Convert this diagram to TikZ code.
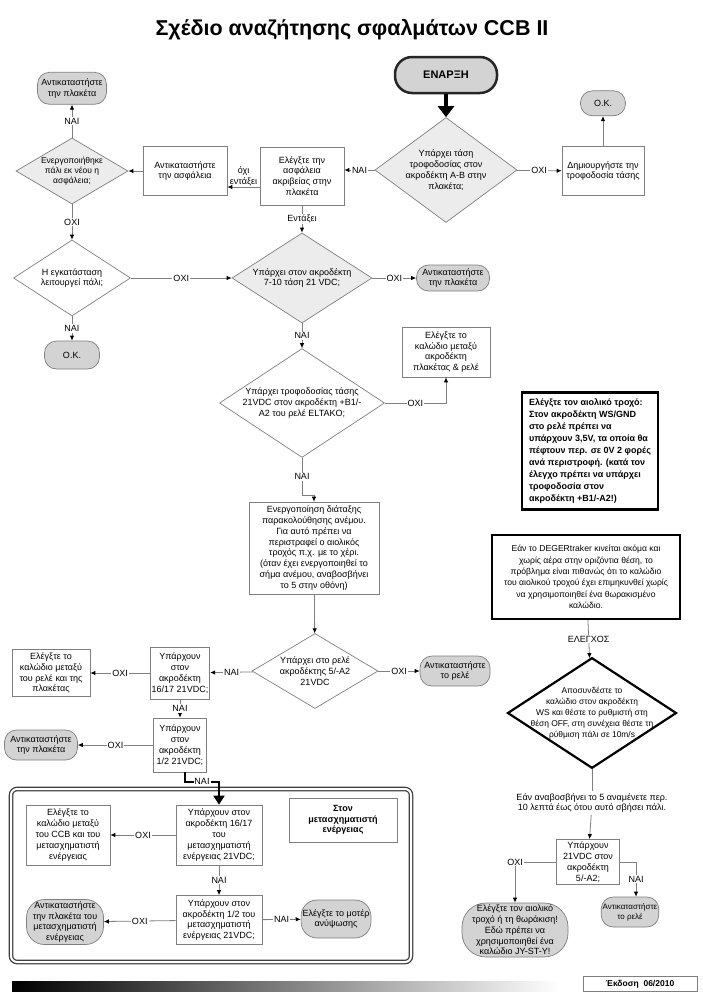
\documentclass[tikz,border=0pt]{standalone}
\usepackage{fontspec}
\setmainfont{Liberation Sans}
\usepackage{tikz}
\usetikzlibrary{arrows.meta,positioning,shapes,calc}
\usepackage{xcolor}
\definecolor{linegray}{HTML}{7F7F7F}
\definecolor{termgray}{HTML}{D3D3D3}
\definecolor{decgray}{HTML}{ECECEC}

\begin{document}
\begin{tikzpicture}[x=1pt,y=-1pt,>={Latex[length=5pt,width=4.5pt,color=black]},
  every node/.style={font=\fontsize{9}{10.8}\selectfont}]
\tikzstyle{box}=[draw=linegray,fill=white,align=center,inner sep=1.5pt,line width=0.7pt]
\tikzstyle{term}=[draw=linegray,fill=termgray,align=center,inner sep=1.5pt,line width=0.7pt,rounded corners=12pt]
\tikzstyle{dec}=[diamond,draw=linegray,fill=white,align=center,inner sep=-10pt,line width=0.7pt]
\tikzstyle{note}=[draw=black,fill=white,line width=2.2pt,inner sep=3pt]
\tikzstyle{lbl}=[fill=white,inner sep=1pt]
\tikzstyle{wire}=[draw=linegray,line width=0.8pt]
\tikzstyle{bigarrow}=[draw=black,line width=3.4pt,-{Triangle[length=11pt,width=16pt]}]
\path[use as bounding box,fill=white] (0,0) rectangle (703,994);

% title
\node[font=\fontsize{21.5}{25}\selectfont\bfseries] (title) at (352,30) {Σχέδιο αναζήτησης σφαλμάτων CCB II};

% start and power check
\node[term,draw=black!85,line width=2.5pt,rounded corners=17pt,minimum width=102pt,minimum height=36pt,
  font=\fontsize{11}{13}\selectfont\bfseries] (start) at (446,75) {ΕΝΑΡΞΗ};
\node[dec,fill=decgray,minimum width=142pt,minimum height=105pt] (d1) at (446,170)
  {Υπάρχει τάση\\τροφοδοσίας στον\\ακροδέκτη Α-Β στην\\πλακέτα;};
\node[box,minimum width=82pt,minimum height=49pt] (gen) at (603,171) {Δημιουργήστε την\\τροφοδοσία τάσης};
\node[term,minimum width=45pt,minimum height=25pt,above=30pt of gen] (okA) {O.K.};

% fuse
\node[box,minimum width=84pt,minimum height=58pt] (fuse) at (302,176) {Ελέγξτε την\\ασφάλεια\\ακριβείας στην\\πλακέτα};
\node[box,minimum width=84pt,minimum height=49pt] (replfuse) at (185,171) {Αντικαταστήστε\\την ασφάλεια};
\node[dec,fill=decgray,minimum width=112pt,minimum height=66pt,font=\fontsize{8.5}{10.3}\selectfont] (dfuse) at (72,171)
  {Ενεργοποιήθηκε\\πάλι εκ νέου η\\ασφάλεια;};
\node[term,minimum width=69pt,minimum height=32pt,above=33pt of dfuse] (repl1) {Αντικαταστήστε\\την πλακέτα};
\node[dec,minimum width=117pt,minimum height=76pt] (dinst) at (72,278) {Η εγκατάσταση\\λειτουργεί πάλι;};
\node[term,minimum width=55pt,minimum height=28pt] (okB) at (72,355) {O.K.};

% 7-10 and ELTAKO
\node[dec,fill=decgray,minimum width=140pt,minimum height=90pt] (d710) at (302,278)
  {Υπάρχει στον ακροδέκτη\\7-10 τάση 21 VDC;};
\node[term,minimum width=73pt,minimum height=26pt] (repl2) at (453,278) {Αντικαταστήστε\\την πλακέτα};
\node[dec,minimum width=165pt,minimum height=102pt] (dB1) at (302,403)
  {Υπάρχει τροφοδοσίας τάσης\\21VDC στον ακροδέκτη +B1/-\\A2 του ρελέ ELTAKO;};
\node[box,minimum width=88pt,minimum height=50pt] (cable1) at (446,352)
  {Ελέγξτε το\\καλώδιο μεταξύ\\ακροδέκτη\\πλακέτας \& ρελέ};
\node[box,minimum width=130pt,minimum height=92pt] (wind) at (314,548)
  {Ενεργοποίηση διάταξης\\παρακολούθησης ανέμου.\\Για αυτό πρέπει να\\περιστραφεί ο αιολικός\\τροχός π.χ. με το χέρι.\\(όταν έχει ενεργοποιηθεί το\\σήμα ανέμου, αναβοσβήνει\\το 5 στην οθόνη)};

% relay checks
\node[dec,minimum width=126pt,minimum height=75pt] (d5A2) at (315,671) {Υπάρχει στο ρελέ\\ακροδέκτης 5/-A2\\21VDC};
\node[term,minimum width=70pt,minimum height=30pt] (repl3) at (455,671) {Αντικαταστήστε\\το ρελέ};
\node[box,minimum width=58pt,minimum height=52pt] (b1617) at (180,673) {Υπάρχουν\\στον\\ακροδέκτη\\16/17 21VDC;};
\node[box,minimum width=78pt,minimum height=47pt] (cable2) at (51,673) {Ελέγξτε το\\καλώδιο μεταξύ\\του ρελέ και της\\πλακέτας};
\node[box,minimum width=53pt,minimum height=54pt] (b12) at (180,745) {Υπάρχουν\\στον\\ακροδέκτη\\1/2 21VDC;};
\node[term,minimum width=73pt,minimum height=30pt] (repl4) at (41,745) {Αντικαταστήστε\\την πλακέτα};

% transformer frame
\draw[draw=black!75,line width=1.3pt,double=white,double distance=2pt,rounded corners=6pt] (11,789) rectangle (411,962);
\node[box,minimum width=86pt,minimum height=60pt] (t1617) at (219,835)
  {Υπάρχουν στον\\ακροδέκτη 16/17\\του\\μετασχηματιστή\\ενέργειας 21VDC;};
\node[box,minimum width=84pt,minimum height=60pt] (tcable) at (68,835)
  {Ελέγξτε το\\καλώδιο μεταξύ\\του CCB και του\\μετασχηματιστή\\ενέργειας};
\node[box,minimum width=108pt,minimum height=44pt,font=\fontsize{9}{10.8}\selectfont\bfseries] (tlabel) at (343,820)
  {Στον\\μετασχηματιστή\\ενέργειας};
\node[box,minimum width=86pt,minimum height=49pt] (t12) at (219,920)
  {Υπάρχουν στον\\ακροδέκτη 1/2 του\\μετασχηματιστή\\ενέργειας 21VDC;};
\node[term,minimum width=77pt,minimum height=45pt,rounded corners=18pt] (trepl) at (65,922)
  {Αντικαταστήστε\\την πλακέτα του\\μετασχηματιστή\\ενέργειας};
\node[term,minimum width=67pt,minimum height=38pt,rounded corners=16pt] (motor) at (336,919) {Ελέγξτε το μοτέρ\\ανύψωσης};

% right column
\node[note,align=left,minimum width=136pt,minimum height=117pt,font=\fontsize{9}{12}\selectfont\bfseries] (wheel) at (590,451)
  {Ελέγξτε τον αιολικό τροχό:\\Στον ακροδέκτη WS/GND\\στο ρελέ πρέπει να\\υπάρχουν 3,5V, τα οποία θα\\πέφτουν περ. σε 0V 2 φορές\\ανά περιστροφή. (κατά τον\\έλεγχο πρέπει να υπάρχει\\τροφοδοσία στον\\ακροδέκτη +B1/-A2!)};
\node[note,align=center,minimum width=188pt,minimum height=84pt,font=\fontsize{8.6}{11.4}\selectfont] (deger) at (586,577)
  {Εάν το DEGERtraker κινείται ακόμα και\\χωρίς αέρα στην οριζόντια θέση, το\\πρόβλημα είναι πιθανώς ότι το καλώδιο\\του αιολικού τροχού έχει επιμηκυνθεί χωρίς\\να χρησιμοποιηθεί ένα θωρακισμένο\\καλώδιο.};
\node[dec,draw=black,line width=2.2pt,inner sep=-16pt,minimum width=169pt,minimum height=110pt,
  font=\fontsize{8.4}{11}\selectfont] (dws) at (592,713)
  {Αποσυνδέστε το\\καλώδιο στον ακροδέκτη\\WS και θέστε το ρυθμιστή στη\\θέση OFF, στη συνέχεια θέστε τη\\ρύθμιση πάλι σε 10m/s};
\node[lbl,align=center,inner sep=2pt] (wait) at (592,803) {Εάν αναβοσβήνει το 5 αναμένετε περ.\\10 λεπτά έως ότου αυτό σβήσει πάλι.};
\node[box,minimum width=63pt,minimum height=45pt] (b5A2) at (588,862) {Υπάρχουν\\21VDC στον\\ακροδέκτη\\5/-A2;};
\node[term,minimum width=106pt,minimum height=54pt,rounded corners=24pt] (wheel2) at (515,930)
  {Ελέγξτε τον αιολικό\\τροχό ή τη θωράκιση!\\Εδώ πρέπει να\\χρησιμοποιηθεί ένα\\καλώδιο JY-ST-Y!};
\node[term,minimum width=56pt,minimum height=30pt,font=\fontsize{8}{10}\selectfont] (repl5) at (630,912) {Αντικαταστήστε\\το ρελέ};
\node[box,minimum width=114pt,minimum height=15pt,font=\fontsize{8.5}{10}\selectfont\bfseries] (version) at (640,984) {Έκδοση~~06/2010};
\shade[left color=black,right color=white] (12,981) rectangle (560,991);

% connectors
\draw[bigarrow] (start) -- (d1);
\draw[wire,->] (d1) -- node[lbl]{OXI} (gen);
\draw[wire,->] (gen) -- (okA);
\draw[wire,->] (d1) -- node[lbl]{NAI} (fuse.east |- d1);
\draw[wire,->] ([yshift=-11pt]fuse.west) -- node[above,align=center,inner sep=1pt]{όχι\\εντάξει} ([yshift=-16pt]replfuse.east);
\draw[wire,->] (replfuse) -- (dfuse);
\draw[wire,->] (dfuse) -- node[lbl]{NAI} (repl1);
\draw[wire,->] (dfuse) -- node[lbl]{OXI} (dinst);
\draw[wire,->] (dinst) -- node[lbl]{NAI} (okB);
\draw[wire,->] (dinst) -- node[lbl]{OXI} (d710);
\draw[wire,->] (fuse) -- node[lbl]{Εντάξει} (d710);
\draw[wire,->] (d710) -- node[lbl]{OXI} (repl2);
\draw[wire,->] (d710) -- node[lbl]{NAI} (dB1);
\draw[wire,->] (dB1.east) -| node[lbl,pos=0.25]{OXI} (cable1.south);
\draw[wire,->] (dB1.south) -- node[lbl]{NAI} ++(0,38) -| (wind.north);
\draw[wire,->] (wind) -- (d5A2);
\draw[wire,->] (d5A2) -- node[lbl]{OXI} (repl3);
\draw[wire,->] (d5A2) -- node[lbl]{NAI} (b1617);
\draw[wire,->] (b1617) -- node[lbl]{OXI} (cable2);
\draw[wire,->] (b1617) -- node[lbl]{NAI} (b12);
\draw[wire,->] (b12) -- node[lbl]{OXI} (repl4);
\draw[draw=black,line width=2pt,-{Triangle[length=9pt,width=11pt]}] ([xshift=5pt]b12.south) |- node[lbl,pos=0.75]{NAI} ([yshift=23pt]t1617.north) -- (t1617.north);
\draw[wire,->] (t1617) -- node[lbl]{OXI} (tcable);
\draw[wire,->] (t1617) -- node[lbl]{NAI} (t12);
\draw[wire,->] (t12) -- node[lbl]{OXI} (trepl);
\draw[wire,->] (t12) -- node[lbl]{NAI} (motor);
\draw[wire,->] (deger) -- node[lbl]{ΕΛΕΓΧΟΣ} (dws);
\draw[wire] (dws) -- (wait);
\draw[wire,->] (wait) -- (b5A2);
\draw[wire,->] (b5A2.west) -| node[lbl,pos=0.5]{OXI} (wheel2.north);
\draw[wire,->] (b5A2.east) -| node[lbl,pos=0.75]{NAI} ([xshift=6pt]repl5.north);
\end{tikzpicture}
\end{document}
